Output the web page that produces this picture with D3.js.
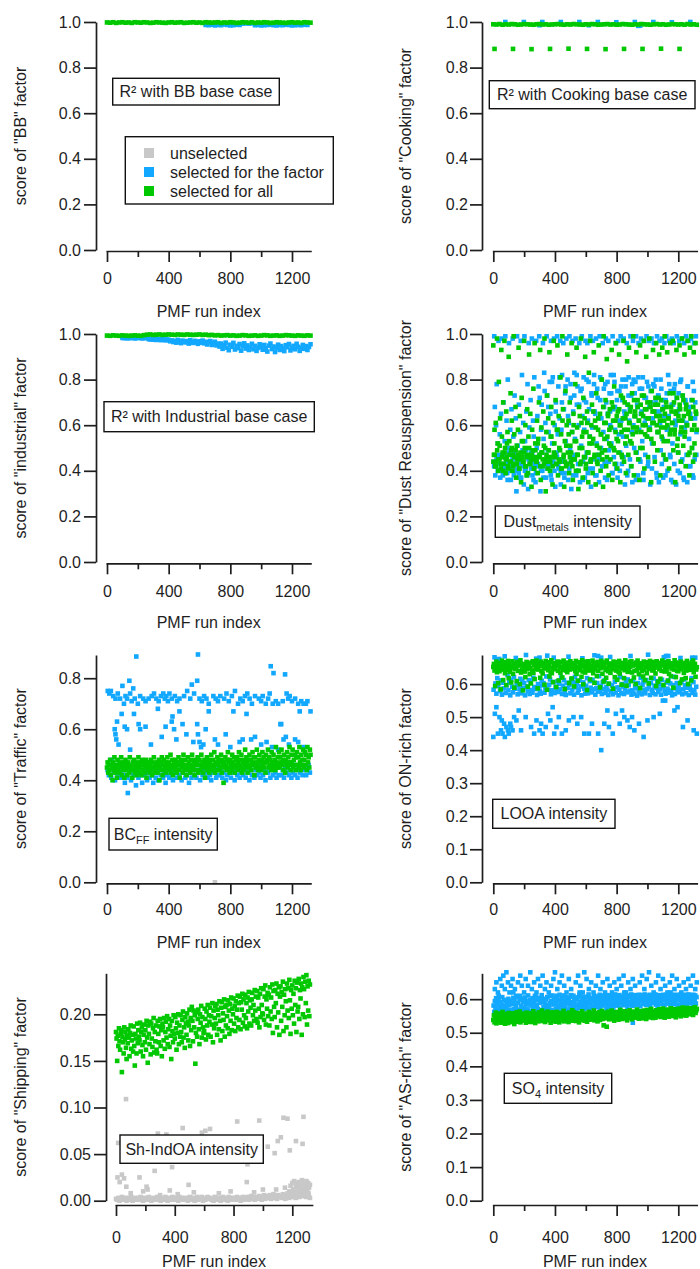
<!DOCTYPE html>
<html>
<head>
<meta charset="utf-8">
<script src="https://cdn.jsdelivr.net/npm/d3@7"></script>
<style>
  body { margin: 0; background: #fff; }
  svg text { font-family: Arial, "Liberation Sans", sans-serif; fill: #1e1e1e; }
</style>
</head>
<body>
<svg id="chart" width="700" height="1269"></svg>
<script>
// ---------------------------------------------------------------
// Factor scores per PMF run. Evenly sampled runs are stored as
// score lists (first run, run step); isolated runs as [run, score].
// ---------------------------------------------------------------
const runTicks = [0, 400, 800, 1200];
const runMinorTicks = [200, 600, 1000];
const legendLabels = ["unselected", "selected for the factor", "selected for all"];

// "BB" factor
const bbAllScores = [.998,.997,.999,.996,.998,.999,.997,.998,.996,.999,.998,.997,.999,.998,.996,.997,.999,.998,.997,.996,.998,.999,.997,.998,.999,.996,.997,.998,.999,.997,.998,.996,.999,.998,.997,.998,.999,.996,.998,.997,.999,.998,.996,.997,.999,.998,.997,.999,.996,.998,.997,.999,.998,.996,.997,.999,.998,.997,.996,.998,.999,.997,.998,.996,.999,.998,.997];
const bbFactorScores = [.987,.986,.988,.985,.987,.986,.989,.987,.985,.986,.988,.987,.993,.994,.993,.994,.986,.987,.985,.986,.987,.988,.986,.985,.987,.986,.988,.987,.985,.986,.987,.986,.988,.987];

// "Cooking" factor
const cookAllScores = [.990,.989,.991,.988,.990,.989,.991,.990,.988,.989,.991,.990,.989,.988,.990,.991,.989,.990,.988,.989,.990,.991,.989,.988,.990,.989,.991,.990,.989,.988,.990,.989,.991,.990,.988,.989,.990,.991,.989,.990,.988,.989,.991,.990,.989,.988,.990,.989,.991,.990,.989,.988,.990,.991,.989,.990,.988,.989,.991,.990,.989,.990,.988,.991,.989,.990,.988];
const cookAllLowScores = [.882,.882,.881,.882,.883,.882,.881,.882,.882,.883,.882];
const cookFactorRuns = [[78,1],[198,1],[318,1],[438,1],[558,1],[678,1],[798,.999],[918,1],[1038,1],[1158,.999],[1278,1],[940,.983],[952,.984],[300,.986],[620,.986]];

// "industrial" factor
const indAllScores = [.993,.992,.994,.993,.992,.994,.993,.992,.993,.994,.993,.992,.995,.997,.998,.996,.997,.998,.996,.997,.998,.997,.996,.998,.997,.996,.998,.997,.996,.997,.998,.996,.997,.995,.996,.994,.995,.993,.994,.995,.993,.994,.992,.993,.995,.994,.992,.993,.994,.992,.993,.995,.994,.992,.993,.994,.992,.993,.995,.994,.993,.992,.994,.993,.992,.994,.993];
const indFactorScores = [.983,.982,.984,.981,.983,.982,.984,.983,.981,.982,.983,.984,.982,.981,.983,.982,.984,
  .978,.976,.979,.975,.977,.974,.978,.976,.973,.977,.975,.972,.976,.974,
  .968,.972,.965,.970,.962,.974,.967,.960,.971,.966,.963,.969,.958,.973,.965,.961,.970,.964,.957,.968,.962,.971,.959,.966,.954,.963,.969,.952,.960,.966,.950,.958,
  .945,.958,.935,.950,.962,.940,.929,.953,.944,.961,.932,.948,.938,.956,.927,.946,.959,.936,.950,.930,
  .942,.957,.933,.948,.926,.939,.955,.944,.931,.952,.937,.923,.949,.958,.934,.945,.921,.940,.953,.930,
  .947,.936,.925,.951,.942,.956,.928,.939,.948,.933,.957,.944,.926,.938,.952,.935,.947,.930,.943,.955];

// "Dust Resuspension" factor
const dustAllScores = [
  .95,.47,.58,.42,.61,.44,.98,.52,.40,.79, .45,.63,.41,.93,.55,.48,.70,.43,.97,.50,
  .39,.66,.46,.57,.42,.90,.53,.44,.74,.49, .62,.40,.47,.99,.56,.43,.68,.37,.51,.45,
  .58,.94,.41,.64,.48,.35,.72,.46,.53,.44, .97,.50,.60,.42,.38,.67,.47,.55,.91,.43,
  .65,.45,.33,.58,.49,.76,.41,.96,.52,.46, .44,.62,.39,.54,.70,.47,.93,.36,.59,.48,
  .42,.66,.51,.98,.45,.31,.57,.73,.44,.63, .49,.92,.40,.55,.68,.46,.34,.61,.97,.52,
  .47,.71,.43,.58,.95,.38,.64,.50,.44,.81, .56,.41,.99,.67,.46,.33,.53,.75,.42,.60,
  .91,.48,.62,.39,.70,.51,.44,.96,.57,.36, .65,.45,.53,.78,.40,.94,.59,.47,.32,.68,
  .50,.43,.98,.61,.55,.37,.72,.46,.63,.90, .41,.57,.66,.48,.35,.83,.52,.97,.44,.60,
  .69,.39,.54,.92,.46,.62,.34,.74,.51,.43, .58,.95,.47,.65,.40,.56,.80,.45,.33,.99,
  .61,.49,.71,.42,.89,.55,.64,.38,.52,.67, .45,.59,.93,.36,.68,.50,.77,.43,.62,.96,
  .54,.41,.66,.48,.91,.60,.35,.73,.57,.46, .63,.97,.44,.70,.52,.39,.65,.88,.58,.47,
  .94,.61,.53,.68,.42,.74,.56,.99,.38,.64, .66,.48,.92,.59,.71,.45,.62,.36,.95,.69,
  .57,.73,.50,.64,.97,.41,.67,.60,.90,.55, .70,.46,.63,.98,.58,.68,.35,.75,.61,.93,
  .52,.66,.44,.72,.96,.60,.49,.69,.57,.91, .64,.38,.71,.55,.94,.67,.47,.62,.99,.59,
  .45,.68,.92,.53,.63,.41,.74,.96,.58,.66, .61,.97,.49,.70,.56,.35,.65,.93,.72,.54,
  .48,.62,.95,.67,.44,.59,.98,.73,.51,.64, .91,.57,.42,.69,.60,.97,.47,.66,.38,.94,
  .63,.99,.50,.71,.44,.92,.60,.47,.96,.65, .58];
const dustAllExtra = [
  .44,.47,.42,.49,.45,.51,.43,.46,.40,.48, .45,.52,.41,.47,.44,.50,.42,.46,.49,.43,
  .47,.41,.45,.53,.44,.48,.42,.46,.39,.50, .43,.47,.45,.41,.49,.44,.52,.46,.42,.48,
  .45,.43,.50,.47,.41,.46,.44,.55,.42,.48, .46,.43,.58,.45,.49,.41,.62,.47,.44,.51,
  .43,.56,.46,.48,.42,.60,.45,.53,.47,.40, .64,.44,.50,.57,.46,.43,.61,.48,.55,.45,
  .52,.66,.47,.59,.44,.63,.50,.56,.48,.68, .54,.61,.46,.65,.58,.51,.70,.62,.49,.57,
  .64,.53,.67,.60,.47,.72,.58,.63,.55,.69, .61,.66,.52,.59,.71,.64,.57,.68,.62,.50,
  .65,.60,.73,.56,.67,.63,.58,.70,.54,.66, .61,.69,.64,.57,.72,.62,.59,.67,.53,.65,
  .70,.60,.63,.56,.68,.61,.74,.58,.66,.51, .64,.69,.57,.62,.71,.55,.67,.60,.65,.48,
  .63,.58,.68,.52,.66];
const dustFactorScores = [
  .44,.99,.68,.42,.60,.78,.45,.52,.97,.40, .56,.43,.65,.98,.47,.38,.70,.41,.53,.99,
  .46,.62,.39,.80,.50,.96,.44,.58,.36,.67, .42,.98,.55,.48,.73,.40,.63,.31,.99,.51,
  .45,.69,.37,.57,.97,.43,.82,.49,.61,.34, .99,.53,.41,.66,.46,.78,.32,.96,.59,.44,
  .71,.48,.98,.38,.62,.55,.81,.42,.35,.97, .50,.64,.43,.77,.99,.47,.31,.58,.69,.40,
  .96,.54,.83,.45,.61,.37,.99,.73,.49,.57, .42,.79,.65,.97,.36,.52,.81,.46,.98,.60,
  .33,.70,.48,.99,.56,.77,.41,.63,.97,.34, .58,.82,.45,.96,.67,.39,.74,.53,.98,.43,
  .80,.36,.61,.99,.49,.72,.32,.57,.97,.66, .46,.83,.54,.98,.38,.69,.77,.43,.60,.96,
  .35,.75,.51,.99,.64,.44,.81,.58,.37,.97, .70,.48,.96,.62,.79,.41,.55,.99,.33,.73,
  .59,.97,.45,.82,.66,.38,.98,.52,.76,.47, .63,.35,.99,.71,.50,.80,.42,.96,.57,.68,
  .44,.78,.98,.54,.36,.65,.97,.49,.74,.60, .82,.52,.39,.99,.67,.46,.79,.58,.96,.41,
  .71,.37,.97,.56,.75,.48,.99,.62,.43,.80, .55,.98,.66,.34,.77,.51,.96,.69,.40,.81,
  .62,.45,.99,.73,.57,.35,.97,.80,.50,.64, .79,.99,.48,.68,.38,.96,.58,.76,.44,.98,
  .66,.53,.81,.36,.97,.61,.47,.72,.99,.55, .42,.77,.97,.59,.34,.70,.98,.52,.63,.78,
  .96,.46,.66,.80,.39,.99,.57,.73,.35,.97, .61,.49,.76,.98,.54,.37,.68,.96,.45,.71,
  .99,.58,.40,.82,.64,.97,.47,.75,.36,.98, .52,.69,.96,.43,.78,.60,.34,.99,.66,.48,
  .74,.97,.39,.56,.80,.98,.45,.62,.37,.96, .59,.71,.99,.47,.35,.77,.97,.54,.68,.42,
  .98,.63,.50,.79,.37,.96,.45,.70,.99,.57];
const dustFactorExtra = [
  .42,.38,.45,.40,.47,.37,.43,.41,.46,.39, .44,.36,.48,.42,.40,.45,.38,.43,.47,.41,
  .39,.44,.37,.46,.42,.40,.49,.38,.45,.43, .41,.47,.36,.44,.39,.46,.42,.72,.40,.48,
  .37,.75,.43,.41,.68,.45,.38,.79,.44,.40, .66,.46,.42,.81,.39,.70,.44,.37,.77,.43,
  .64,.41,.78,.45,.38,.73,.47,.82,.40,.69, .43,.76,.36,.71,.46,.80,.39,.67,.44,.74,
  .41,.78,.65,.38,.72,.45,.81,.63,.42,.76, .37,.70,.79,.44,.66,.74,.39,.82,.68,.43,
  .75,.62,.40,.77,.71,.46,.64,.80,.38,.73, .67,.42,.78,.60,.74,.36,.69,.81,.45,.65,
  .76,.39,.72,.63,.79,.44,.68,.75,.41,.61, .77,.70,.37,.73,.66,.80,.43,.71,.64,.38,
  .74,.59,.78,.46,.69,.35,.76,.62,.72,.40, .67,.79,.44,.73,.36,.70,.61,.77,.42,.65,
  .71,.38,.75,.63,.47];

// "Traffic" factor
const trafficAllScores = [
  .45,.47,.43,.46,.44,.48,.42,.46,.45,.40, .47,.44,.49,.43,.46,.45,.41,.48,.44,.46,
  .43,.47,.45,.49,.42,.46,.44,.47,.41,.45, .48,.44,.46,.42,.47,.45,.43,.49,.46,.44,
  .45,.41,.47,.44,.48,.43,.46,.45,.42,.47, .44,.49,.46,.43,.45,.47,.42,.48,.44,.46,
  .47,.43,.45,.48,.41,.46,.44,.47,.45,.43, .46,.48,.44,.42,.47,.45,.49,.43,.46,.44,
  .45,.47,.43,.46,.48,.40,.45,.47,.44,.49, .42,.46,.48,.44,.45,.47,.43,.46,.49,.45,
  .47,.44,.46,.50,.43,.45,.48,.42,.46,.47, .44,.48,.45,.43,.47,.46,.49,.44,.41,.46,
  .48,.45,.47,.43,.50,.46,.44,.48,.45,.42, .46,.49,.44,.47,.45,.43,.48,.46,.50,.44,
  .45,.47,.42,.48,.46,.44,.47,.49,.43,.46, .48,.44,.46,.50,.45,.47,.43,.46,.48,.41,
  .47,.45,.49,.44,.46,.48,.43,.47,.45,.50, .44,.46,.48,.45,.51,.43,.47,.46,.44,.49,
  .46,.48,.44,.47,.45,.50,.43,.48,.46,.39, .47,.45,.49,.46,.44,.48,.51,.45,.47,.43,
  .48,.46,.44,.50,.47,.45,.49,.43,.46,.48, .45,.49,.47,.44,.51,.46,.48,.45,.50,.43,
  .47,.44,.48,.46,.52,.45,.49,.47,.43,.48, .46,.50,.45,.48,.44,.47,.51,.46,.49,.42,
  .49,.45,.47,.52,.46,.44,.48,.50,.45,.47, .44,.48,.51,.46,.49,.45,.47,.43,.50,.48,
  .47,.52,.45,.49,.46,.48,.44,.51,.47,.45, .50,.46,.48,.44,.53,.47,.45,.49,.46,.51,
  .45,.49,.47,.52,.46,.48,.44,.50,.47,.43, .48,.46,.51,.45,.49,.47,.53,.46,.44,.50,
  .47,.52,.45,.48,.46,.50,.44,.49,.51,.46, .49,.45,.53,.47,.44,.50,.48,.46,.52,.45,
  .48,.51,.46,.50,.44,.53,.47,.49,.45,.52, .50];
const trafficFactorLowScores = [
  .44,.42,.46,.41,.45,.43,.40,.44,.42,.46, .41,.43,.45,.42,.39,.44,.41,.46,.43,.40,
  .45,.42,.44,.38,.43,.41,.45,.42,.39,.44, .42,.46,.40,.43,.41,.44,.42,.39,.45,.41,
  .43,.40,.44,.42,.46,.41,.43,.39,.42,.45, .41,.44,.42,.40,.45,.43,.41,.44,.42,.46,
  .40,.43,.45,.41,.42,.44,.39,.43,.41,.45, .42,.44,.41,.46,.43,.40,.45,.42,.44,.41,
  .43,.41,.45,.42,.40,.44,.43,.46,.41,.42, .45,.42,.44,.41,.43,.46,.40,.42,.44,.43,
  .41,.45,.43,.40,.44,.42,.46,.41,.43,.45, .42,.44,.41,.45,.43,.40,.44,.42,.46,.41,
  .44,.42,.45,.43,.41,.46,.42,.44,.40,.43, .43,.45,.41,.44,.42,.46,.43,.41,.45,.42,
  .46,.42,.44,.41,.45,.43,.47,.42,.44,.41, .43,.46,.42,.44,.41,.45,.43,.46,.42,.44,
  .45,.42,.44,.46,.43];
const trafficFactorOutliers = [
  [5,.75],[15,.74],[25,.75],[40,.73],[55,.72],[70,.74],[85,.72],[100,.77],[110,.70],[120,.73],[130,.72],[145,.79],[150,.74],[160,.71],
  [170,.76],[180,.72],[190,.885],[200,.70],[215,.73],[235,.72],[250,.71],[270,.72],[290,.73],[305,.74],[320,.72],[335,.71],[350,.73],
  [365,.74],[375,.72],[385,.73],[395,.71],[405,.74],[420,.72],[440,.73],[455,.71],[470,.72],[500,.73],[520,.75],[540,.72],[550,.775],
  [565,.74],[585,.79],[590,.893],[600,.72],[615,.71],[630,.73],[645,.72],[660,.70],[690,.73],[705,.72],[720,.71],[735,.73],[760,.72],
  [775,.74],[790,.71],[810,.73],[830,.75],[850,.70],[865,.72],[880,.71],[895,.73],[910,.74],[925,.72],[940,.70],[960,.73],[985,.72],
  [1000,.71],[1010,.73],[1030,.70],[1045,.72],[1055,.74],[1062,.847],[1075,.70],[1080,.82],[1095,.71],[1110,.70],[1140,.71],[1155,.815],
  [1165,.74],[1175,.72],[1185,.73],[1200,.71],[1220,.72],[1240,.70],[1260,.71],[1275,.70],[1290,.70],[1300,.71],[1320,.67],[1250,.67],
  [30,.48],[50,.60],[55,.58],[60,.56],[65,.63],[75,.54],[95,.66],[115,.61],[130,.60],[150,.52],[175,.66],[205,.62],[215,.60],[250,.61],
  [285,.54],[330,.68],[355,.57],[380,.61],[420,.63],[425,.65],[435,.60],[450,.56],[470,.67],[490,.62],[515,.58],[560,.55],[585,.62],
  [590,.58],[600,.55],[610,.53],[625,.54],[640,.60],[660,.67],[700,.56],[720,.54],[770,.58],[800,.53],[820,.67],[860,.55],[880,.56],
  [905,.66],[935,.56],[960,.57],[1000,.54],[1035,.55],[1070,.53],[1110,.52],[1125,.62],[1130,.62],[1145,.56],[1160,.57],[1180,.54],
  [1220,.56],[1240,.55],[1275,.53],[135,.35]];
const trafficUnselected = [[700,0]];

// ON-rich factor
const onAllScores = [
  .652,.661,.641,.594,.648,.668,.636,.657,.603,.645, .639,.663,.584,.655,.671,.644,.612,.659,.650,.633,
  .666,.597,.642,.654,.670,.618,.660,.637,.649,.605, .653,.669,.631,.662,.589,.646,.658,.651,.609,.667,
  .640,.664,.656,.600,.672,.635,.659,.643,.581,.650, .661,.638,.621,.654,.667,.645,.592,.663,.652,.630,
  .648,.602,.665,.641,.669,.634,.657,.615,.660,.646, .671,.653,.587,.644,.662,.655,.619,.668,.639,.658,
  .632,.663,.651,.598,.647,.670,.656,.583,.661,.642, .654,.623,.666,.637,.672,.633,.650,.606,.664,.652,
  .645,.659,.591,.656,.668,.640,.611,.662,.649,.634, .667,.651,.620,.643,.671,.655,.585,.660,.641,.653,
  .636,.665,.648,.603,.644,.669,.657,.617,.663,.646, .655,.593,.662,.639,.670,.631,.652,.610,.666,.650,
  .642,.664,.654,.622,.672,.638,.599,.659,.651,.635, .668,.647,.582,.656,.669,.641,.661,.614,.653,.644,
  .650,.671,.633,.663,.604,.645,.657,.662,.624,.667, .640,.654,.660,.590,.648,.670,.652,.631,.664,.608,
  .656,.665,.643,.619,.671,.649,.639,.601,.662,.655, .634,.661,.650,.645,.586,.668,.657,.621,.663,.641,
  .653,.613,.666,.638,.670,.632,.651,.660,.598,.647, .664,.655,.618,.642,.672,.650,.595,.661,.637,.654,
  .646,.667,.653,.609,.669,.635,.656,.662,.620,.640, .658,.600,.665,.643,.671,.652,.630,.663,.588,.649,
  .661,.639,.657,.623,.668,.644,.612,.666,.651,.633, .655,.664,.602,.646,.670,.653,.619,.660,.641,.657,
  .643,.667,.650,.632,.594,.669,.654,.607,.662,.645, .652,.616,.664,.640,.671,.656,.597,.661,.638,.650,
  .666,.642,.655,.610,.669,.631,.653,.663,.624,.647, .651,.662,.589,.644,.672,.657,.621,.665,.640,.654,
  .639,.663,.652,.603,.668,.645,.614,.660,.656,.634, .664,.650,.618,.641,.670,.655,.600,.662,.643,.653,
  .657,.611,.666,.646,.671,.636,.652,.661,.622,.644, .651];
const onFactorBandScores = [
  .583,.681,.602,.571,.618,.594,.676,.579,.611,.568, .604,.587,.684,.573,.596,.627,.581,.606,.566,.613,
  .592,.575,.621,.586,.679,.601,.569,.597,.584,.616, .572,.609,.588,.603,.566,.688,.593,.578,.612,.570,
  .605,.582,.574,.619,.591,.585,.677,.567,.600,.594, .580,.571,.610,.596,.603,.574,.587,.623,.686,.583,
  .598,.614,.569,.581,.606,.680,.573,.592,.586,.608, .576,.601,.584,.620,.570,.595,.612,.579,.567,.604,
  .588,.683,.597,.572,.615,.582,.607,.568,.622,.590, .602,.574,.583,.611,.593,.566,.678,.605,.586,.571,
  .595,.618,.572,.580,.609,.589,.575,.613,.584,.687, .568,.587,.603,.577,.624,.581,.594,.570,.606,.585,
  .612,.573,.591,.582,.567,.601,.682,.578,.596,.569, .586,.607,.574,.616,.590,.566,.583,.621,.572,.600,
  .593,.570,.584,.608,.575,.614,.597,.580,.685,.568, .581,.610,.571,.594,.587,.565,.603,.579,.574,.619,
  .569,.598,.606,.583,.572,.612,.585,.689,.592,.567, .604,.582,.573,.617,.595,.569,.588,.609,.576,.599,
  .584,.568,.613,.591,.681,.579,.571,.605,.586,.611, .574,.602,.580,.566,.597,.622,.570,.587,.603,.575,
  .593,.581,.679,.607,.569,.584,.614,.596,.572,.589, .600,.567,.594,.583,.618,.573,.606,.581,.568,.592];
const onFactorOutliers = [
  [0,.44],[10,.51],[20,.53],[30,.45],[40,.50],[50,.46],[55,.49],[60,.45],[70,.48],[75,.44],[85,.47],[95,.46],[100,.45],[110,.48],
  [115,.47],[125,.46],[135,.50],[150,.49],[165,.52],[180,.46],[210,.50],[245,.47],[265,.45],[280,.49],[300,.46],[310,.48],[320,.45],
  [340,.47],[355,.51],[370,.49],[385,.53],[395,.45],[410,.47],[425,.50],[445,.45],[470,.46],[490,.49],[520,.50],[545,.48],[570,.50],
  [590,.45],[620,.45],[640,.48],[680,.45],[700,.40],[720,.48],[740,.52],[750,.47],[775,.45],[795,.51],[820,.48],[835,.52],[850,.50],
  [870,.49],[885,.47],[900,.50],[915,.46],[945,.48],[975,.44],[1000,.49],[1040,.50],[1080,.51],[1100,.55],[1115,.55],[1175,.52],
  [1195,.53],[1230,.47],[1260,.49],[1300,.46],[1320,.45],[680,.685],[700,.68],[1120,.685],[1135,.685],[1290,.68],[1310,.68],[20,.675],[300,.68]];

// "Shipping" factor
const shipAllScores = [
  .181,.174,.150,.177,.166,.185,.171,.162,.179,.183, .138,.176,.170,.158,.186,.173,.181,.164,.152,.177,
  .169,.184,.175,.155,.180,.188,.163,.172,.178,.160, .187,.166,.145,.179,.174,.158,.190,.169,.183,.176,
  .172,.191,.160,.181,.186,.167,.155,.178,.189,.170, .183,.162,.193,.175,.148,.188,.179,.168,.192,.157,
  .190,.174,.165,.185,.196,.159,.181,.171,.188,.162, .158,.193,.179,.170,.187,.195,.166,.183,.155,.190,
  .186,.172,.196,.163,.181,.192,.175,.198,.168,.184, .195,.165,.188,.177,.152,.193,.182,.170,.199,.179,
  .174,.197,.185,.162,.191,.180,.200,.168,.188,.176, .199,.181,.170,.194,.203,.175,.186,.164,.197,.190,
  .178,.201,.192,.172,.188,.205,.166,.196,.183,.208, .193,.171,.204,.186,.199,.147,.180,.202,.176,.195,
  .205,.184,.168,.200,.191,.209,.175,.197,.186,.180, .182,.206,.195,.173,.203,.188,.210,.178,.199,.192,
  .207,.176,.198,.189,.212,.170,.204,.185,.196,.209, .190,.211,.178,.205,.199,.184,.214,.193,.172,.207,
  .213,.182,.201,.194,.216,.176,.208,.188,.210,.198, .185,.215,.204,.179,.211,.193,.218,.183,.206,.200,
  .217,.190,.209,.182,.214,.196,.205,.220,.186,.212, .194,.219,.184,.213,.205,.222,.191,.216,.199,.187,
  .221,.196,.212,.185,.218,.203,.224,.190,.215,.207, .188,.216,.223,.199,.210,.193,.226,.204,.219,.195,
  .225,.191,.218,.206,.186,.222,.197,.228,.210,.201, .200,.227,.194,.219,.231,.189,.216,.206,.223,.198,
  .221,.188,.229,.203,.218,.195,.232,.180,.225,.208, .197,.226,.212,.233,.186,.222,.202,.229,.178,.219,
  .230,.193,.224,.208,.235,.182,.221,.199,.227,.214, .186,.233,.204,.228,.196,.237,.215,.179,.226,.206,
  .231,.199,.222,.190,.236,.210,.228,.181,.234,.203, .208,.238,.195,.226,.217,.233,.178,.229,.200,.240,
  .227,.197,.235,.212,.242,.189,.230,.204,.236,.198, .232];
const shipUnselectedBase = [
  .002,.001,.003,.000,.002,.004,.001,.003,.002,.000, .003,.001,.002,.004,.000,.002,.003,.001,.002,.003,
  .001,.004,.002,.000,.003,.002,.001,.003,.004,.002, .000,.002,.003,.001,.002,.004,.001,.003,.000,.002,
  .003,.001,.004,.002,.000,.003,.002,.001,.004,.002, .001,.003,.002,.000,.004,.002,.003,.001,.002,.003,
  .002,.000,.003,.004,.001,.002,.003,.000,.002,.004, .001,.003,.002,.004,.000,.002,.001,.003,.004,.002,
  .003,.001,.002,.000,.004,.003,.001,.002,.003,.000, .002,.004,.001,.003,.002,.000,.004,.002,.001,.003,
  .002,.003,.001,.004,.002,.003,.000,.002,.004,.001, .003,.002,.004,.001,.003,.005,.002,.004,.001,.003,
  .004,.002,.005,.003,.001,.004,.006,.002,.003,.005, .003,.006,.002,.004,.007,.003,.005,.002,.006,.004,
  .005,.003,.007,.004,.002,.006,.008,.003,.005,.004, .006,.004,.008,.003,.005,.007,.004,.006,.009,.005,
  .007,.005,.004,.008,.006,.003];
const shipUnselectedScatter = [
  [10,.025],[15,.062],[25,.020],[40,.028],[55,.024],[68,.109],[70,.015],[100,.008],[160,.025],[185,.010],[208,.015],[215,.012],
  [263,.032],[285,.072],[300,.006],[343,.071],[366,.011],[382,.036],[420,.007],[454,.078],[494,.017],[530,.009],[585,.073],
  [608,.075],[640,.077],[662,.057],[700,.008],[730,.068],[780,.010],[825,.085],[890,.020],[895,.039],[940,.009],[975,.086],
  [1000,.012],[1033,.058],[1080,.051],[1090,.012],[1101,.064],[1122,.068],[1140,.089],[1150,.014],[1167,.088],[1183,.054],
  [1225,.064],[1270,.061],[1276,.090],
  [1180,.010],[1188,.016],[1195,.008],[1200,.019],[1206,.012],[1212,.021],[1218,.009],[1224,.015],[1230,.018],[1236,.011],
  [1242,.020],[1248,.014],[1254,.017],[1260,.009],[1266,.022],[1272,.013],[1278,.018],[1284,.010],[1290,.016],[1296,.021],
  [1302,.012],[1308,.019],[1314,.014],[1320,.017],[1250,.007],[1285,.006],[1310,.008]];

// "AS-rich" factor
const asAllScores = [
  .538,.552,.531,.545,.560,.528,.541,.555,.535,.548, .543,.557,.530,.549,.538,.562,.533,.546,.554,.527,
  .541,.556,.535,.548,.529,.559,.544,.537,.551,.532, .547,.534,.558,.541,.526,.553,.545,.539,.561,.533,
  .550,.537,.544,.563,.531,.548,.555,.536,.542,.557, .539,.552,.546,.530,.560,.543,.535,.556,.548,.533,
  .545,.558,.532,.550,.541,.564,.537,.553,.529,.547, .556,.540,.549,.534,.561,.545,.538,.552,.543,.566,
  .535,.551,.544,.559,.532,.548,.555,.541,.563,.537, .549,.543,.557,.530,.552,.546,.561,.536,.550,.542,
  .558,.533,.547,.562,.540,.554,.544,.531,.559,.548, .541,.556,.537,.551,.565,.534,.548,.543,.557,.539,
  .553,.546,.532,.560,.549,.538,.555,.544,.567,.536, .547,.561,.540,.552,.535,.558,.546,.542,.554,.531,
  .559,.544,.550,.538,.564,.548,.541,.556,.536,.552, .545,.557,.533,.551,.547,.562,.539,.553,.544,.558,
  .540,.555,.548,.566,.537,.550,.543,.559,.546,.534, .552,.545,.561,.538,.554,.549,.565,.541,.557,.522,
  .548,.560,.543,.555,.518,.551,.546,.563,.540,.556, .553,.547,.566,.542,.558,.550,.536,.561,.549,.555,
  .544,.562,.551,.539,.557,.548,.568,.545,.553,.541, .559,.546,.554,.564,.543,.556,.549,.537,.562,.551,
  .548,.567,.544,.555,.552,.540,.563,.550,.558,.546, .561,.553,.545,.569,.549,.557,.542,.564,.551,.547,
  .556,.543,.562,.550,.566,.545,.558,.553,.541,.568, .549,.564,.555,.546,.560,.552,.571,.547,.557,.544,
  .563,.551,.558,.545,.567,.554,.549,.562,.556,.570, .552,.566,.547,.560,.555,.572,.550,.559,.545,.564,
  .558,.549,.569,.556,.562,.548,.565,.553,.573,.551, .566,.555,.561,.550,.570,.557,.546,.568,.559,.563,
  .553,.572,.560,.567,.549,.564,.556,.575,.552,.561, .569,.558,.565,.551,.574,.560,.567,.555,.571,.562,
  .557,.573,.564,.570,.553,.568,.561,.576,.559,.566, .571];
const asFactorBandScores = [
  .581,.562,.594,.573,.603,.558,.586,.569,.597,.553, .576,.591,.564,.584,.606,.571,.552,.598,.579,.566,
  .593,.574,.587,.560,.601,.582,.568,.595,.557,.589, .563,.585,.604,.570,.596,.555,.583,.572,.607,.561,
  .588,.567,.599,.610,.559,.580,.575,.602,.592,.569, .573,.605,.562,.586,.594,.570,.611,.584,.558,.597,
  .590,.565,.581,.603,.572,.596,.587,.561,.608,.578, .583,.598,.571,.560,.604,.589,.593,.567,.612,.564,
  .601,.576,.592,.585,.563,.599,.574,.606,.582,.570, .577,.588,.609,.594,.568,.611,.560,.584,.597,.603,
  .596,.571,.586,.605,.580,.562,.598,.613,.575,.589, .584,.602,.570,.595,.611,.583,.574,.593,.606,.565,
  .603,.587,.596,.572,.585,.607,.612,.576,.591,.582, .573,.594,.604,.584,.566,.599,.581,.605,.574,.613,
  .591,.612,.586,.577,.603,.583,.596,.571,.607,.592, .584,.575,.606,.593,.614,.572,.587,.601,.595,.578,
  .604,.592,.573,.611,.586,.597,.605,.582,.576,.608, .595,.583,.613,.574,.602,.588,.594,.610,.581,.603,
  .587,.606,.596,.572,.612,.591,.580,.604,.593,.577, .611,.584,.603,.595,.575,.607,.586,.614,.592,.581,
  .594,.605,.583,.612,.597,.573,.608,.588,.602,.590, .582,.613,.593,.604,.585,.601,.596,.576,.611,.587,
  .606,.591,.584,.614,.603,.580,.595,.607,.586,.612, .593,.582,.611,.597,.604,.589,.613,.596,.579,.605,
  .612,.594,.603,.586,.598,.614,.601,.583,.592,.607, .585,.608,.596,.613,.581,.604,.593,.611,.602,.589,
  .606,.595,.614,.584,.603,.597,.580,.612,.591,.605, .594,.611,.586,.607,.598,.613,.604,.582,.606,.596,
  .613,.587,.605,.593,.612,.599,.608,.583,.614,.602, .591,.604,.612,.585,.606,.595,.613,.601,.584,.609,
  .603,.581,.597,.614,.605,.588,.607,.594,.612,.598, .586,.613,.602,.596,.583,.606,.614,.592,.604,.589,
  .612,.597,.605,.584,.613,.603,.594,.611,.587,.606];
const asFactorOutliers = [
  [10,.63],[20,.65],[30,.62],[45,.66],[55,.64],[65,.67],[75,.63],[85,.68],[95,.65],[105,.62],[115,.64],[125,.66],[140,.63],[150,.61],
  [160,.65],[175,.67],[185,.64],[200,.62],[210,.66],[225,.64],[240,.68],[250,.63],[265,.65],[280,.62],[290,.66],[305,.64],[320,.67],
  [335,.63],[345,.65],[360,.62],[375,.64],[390,.66],[400,.68],[415,.63],[430,.65],[445,.67],[460,.64],[475,.62],[490,.66],[505,.63],
  [520,.61],[535,.65],[550,.67],[565,.64],[580,.62],[590,.68],[605,.66],[620,.63],[635,.65],[650,.62],[665,.64],[680,.67],[695,.63],
  [710,.65],[725,.62],[740,.66],[755,.64],[770,.62],[785,.65],[800,.63],[815,.66],[830,.64],[845,.67],[860,.62],[875,.65],[890,.63],
  [905,.66],[920,.64],[935,.61],[950,.65],[965,.67],[980,.63],[995,.66],[1010,.68],[1025,.64],[1040,.62],[1055,.65],[1070,.67],
  [1085,.63],[1100,.66],[1115,.64],[1130,.62],[1145,.65],[1160,.67],[1175,.63],[1190,.66],[1205,.64],[1220,.62],[1235,.65],[1250,.63],
  [1265,.66],[1280,.64],[1295,.67],[1310,.63],[1320,.65],[35,.61],[130,.62],[270,.61],[410,.61],[560,.62],[700,.61],[850,.62],
  [1000,.61],[1150,.62],[1290,.61],[905,.53]];

// ---------------------------------------------------------------
const seq = (start, step, values) => values.map((v, i) => [start + step * i, v]);

const panels = [
  { yTitle: 'score of "BB" factor', yMax: 1, yTicks: [0, .2, .4, .6, .8, 1], yFmt: ".1f",
    note: [{ t: "R\u00B2 with BB base case" }], legend: true,
    series: { factor: seq(640, 20, bbFactorScores), all: seq(0, 20, bbAllScores) } },
  { yTitle: 'score of "Cooking" factor', yMax: 1, yTicks: [0, .2, .4, .6, .8, 1], yFmt: ".1f",
    note: [{ t: "R\u00B2 with Cooking base case" }],
    series: { factor: cookFactorRuns, all: seq(0, 20, cookAllScores).concat(seq(8, 120, cookAllLowScores)) } },
  { yTitle: 'score of "industrial" factor', yMax: 1, yTicks: [0, .2, .4, .6, .8, 1], yFmt: ".1f",
    note: [{ t: "R\u00B2 with Industrial base case" }],
    series: { factor: seq(100, 10, indFactorScores), all: seq(0, 20, indAllScores) } },
  { yTitle: 'score of "Dust Resuspension" factor', yMax: 1, yTicks: [0, .2, .4, .6, .8, 1], yFmt: ".1f",
    note: [{ t: "Dust" }, { t: "metals", sub: true }, { t: " intensity" }],
    series: { factor: seq(2, 4, dustFactorScores).concat(seq(5, 8, dustFactorExtra)),
              all: seq(0, 4, dustAllScores).concat(seq(1, 8, dustAllExtra)) } },
  { yTitle: 'score of "Traffic" factor', yMax: 0.891, yTicks: [0, .2, .4, .6, .8], yFmt: ".1f",
    note: [{ t: "BC" }, { t: "FF", sub: true }, { t: " intensity" }],
    series: { unselected: trafficUnselected,
              factor: seq(4, 8, trafficFactorLowScores).concat(trafficFactorOutliers),
              all: seq(0, 4, trafficAllScores) } },
  { yTitle: "score of ON-rich factor", yMax: 0.688, yTicks: [0, .1, .2, .3, .4, .5, .6], yFmt: ".1f",
    note: [{ t: "LOOA intensity" }],
    series: { factor: seq(2, 6, onFactorBandScores).concat(onFactorOutliers), all: seq(0, 4, onAllScores) } },
  { yTitle: 'score of "Shipping" factor', yMax: 0.244, yTicks: [0, .05, .1, .15, .2], yFmt: ".2f",
    note: [{ t: "Sh-IndOA intensity" }],
    series: { unselected: seq(0, 8, shipUnselectedBase).concat(shipUnselectedScatter), all: seq(0, 4, shipAllScores) } },
  { yTitle: 'score of "AS-rich" factor', yMax: 0.677, yTicks: [0, .1, .2, .3, .4, .5, .6], yFmt: ".1f",
    note: [{ t: "SO" }, { t: "4", sub: true }, { t: " intensity" }],
    series: { factor: seq(2, 4, asFactorBandScores).concat(asFactorOutliers), all: seq(0, 4, asAllScores) } }
];

// Page geometry of each panel (pixels)
const leftCol = { yAxisX: 96, x0: 107, x1200: 292, yTitleX: 20, yPad: 3 };
const rightCol = { yAxisX: 482, x0: 493.3, x1200: 678.3, yTitleX: 405, yPad: 2 };
const rows = [
  { top: 22, bottom: 250, xAxisY: 251, labelPad: 10.6, titleY: 317 },
  { top: 334, bottom: 562, xAxisY: 563.3, labelPad: 11.3, titleY: 628.3 },
  { top: 655, bottom: 882.3, xAxisY: 883.3, labelPad: 9.3, titleY: 948.3 },
  { top: 973.3, bottom: 1200.7, xAxisY: 1205, labelPad: 15.3, titleY: 1267.3 }
];
const noteBoxes = [
  [112.7, 78.3, 166.6, 26.7], [489.3, 80.7, 205.7, 28],
  [104, 401.7, 210.3, 30], [495.3, 506, 144.7, 31.3],
  [109, 818.3, 108.3, 31.7], [492.7, 799.3, 122.3, 29],
  [120, 1135, 143.3, 28.3], [504.3, 1073.3, 107.4, 30]
];
const layouts = panels.map((p, i) => {
  const col = i % 2 === 0 ? leftCol : rightCol;
  const row = rows[Math.floor(i / 2)];
  const L = Object.assign({ runFrom: -6, runTo: 1325 }, col, row, { box: noteBoxes[i] });
  if (i === 6) Object.assign(L, { yAxisX: 106, x0: 116, x1200: 292.3, runTo: 1340 });
  return L;
});

const colorOf = { unselected: "#c8c8c8", factor: "#12a8ff", all: "#00c800" };
const drawOrder = ["unselected", "factor", "all"];
const MARK = 4.6;
const FONT = 16;
const INK = "#1e1e1e";

const svg = d3.select("#chart");

function styleAxis(sel) {
  sel.selectAll(".domain").attr("stroke", INK).attr("stroke-width", 1.7);
  sel.selectAll(".tick line").attr("stroke", INK).attr("stroke-width", 1.7);
  sel.selectAll(".tick text").style("font-size", FONT + "px").attr("fill", INK)
    .style("font-family", "Arial, 'Liberation Sans', sans-serif");
}

function writeParts(text, parts) {
  let lowered = false;
  parts.forEach(part => {
    const ts = text.append("tspan").text(part.t);
    if (part.sub) { ts.attr("dy", 4).style("font-size", "11px"); lowered = true; }
    else if (lowered) { ts.attr("dy", -4); lowered = false; }
  });
}

panels.forEach((p, i) => {
  const L = layouts[i];
  const x = d3.scaleLinear().domain([0, 1200]).range([L.x0, L.x1200]);
  const y = d3.scaleLinear().domain([0, p.yMax]).range([L.bottom, L.top]);
  const g = svg.append("g");

  // markers: unselected, then selected for the factor, then selected for all
  drawOrder.forEach(key => {
    const pts = p.series[key];
    if (!pts) return;
    g.append("g").selectAll("rect").data(pts).join("rect")
      .attr("x", d => x(d[0]) - MARK / 2)
      .attr("y", d => y(d[1]) - MARK / 2)
      .attr("width", MARK).attr("height", MARK)
      .attr("fill", colorOf[key]);
  });

  // score axis
  const yAxis = d3.axisLeft(y).tickValues(p.yTicks).tickFormat(d3.format(p.yFmt))
    .tickSize(12).tickPadding(L.yPad).tickSizeOuter(0);
  g.append("g").attr("transform", `translate(${L.yAxisX},0)`).call(yAxis).call(styleAxis);

  // run-index axis (detached below the plot)
  const xa = x.copy().domain([L.runFrom, L.runTo]).range([x(L.runFrom), x(L.runTo)]);
  const xAxis = d3.axisBottom(xa).tickValues(runTicks).tickFormat(d3.format("d"))
    .tickSize(11).tickPadding(L.labelPad).tickSizeOuter(0);
  g.append("g").attr("transform", `translate(0,${L.xAxisY})`).call(xAxis).call(styleAxis);
  const xMinor = d3.axisBottom(xa).tickValues(runMinorTicks).tickFormat("").tickSize(6).tickSizeOuter(0);
  g.append("g").attr("transform", `translate(0,${L.xAxisY})`).call(xMinor).call(styleAxis)
    .select(".domain").remove();

  // axis titles
  g.append("text").attr("x", (xa.range()[0] + xa.range()[1]) / 2).attr("y", L.titleY)
    .attr("text-anchor", "middle").style("font-size", FONT + "px").text("PMF run index");
  g.append("text")
    .attr("transform", `translate(${L.yTitleX},${(L.top + L.bottom) / 2}) rotate(-90)`)
    .attr("text-anchor", "middle").attr("dy", "0.35em")
    .style("font-size", FONT + "px").text(p.yTitle);

  // annotation box
  const [bx, by, bw, bh] = L.box;
  g.append("rect").attr("x", bx).attr("y", by).attr("width", bw).attr("height", bh)
    .attr("fill", "#fff").attr("stroke", "#111").attr("stroke-width", 1.4);
  const note = g.append("text").attr("x", bx + bw / 2).attr("y", by + bh / 2 + 5.6)
    .attr("text-anchor", "middle").style("font-size", FONT + "px");
  writeParts(note, p.note);

  // legend
  if (p.legend) {
    const lg = g.append("g");
    lg.append("rect").attr("x", 125.3).attr("y", 136.7).attr("width", 208).attr("height", 67.3)
      .attr("fill", "#fff").attr("stroke", "#111").attr("stroke-width", 1.4);
    drawOrder.forEach((key, k) => {
      const cy = 153 + k * 19;
      lg.append("rect").attr("x", 144).attr("y", cy - 5).attr("width", 10).attr("height", 10)
        .attr("fill", colorOf[key]);
      lg.append("text").attr("x", 170).attr("y", cy + 5.6).style("font-size", FONT + "px")
        .text(legendLabels[k]);
    });
  }
});
</script>
</body>
</html>
